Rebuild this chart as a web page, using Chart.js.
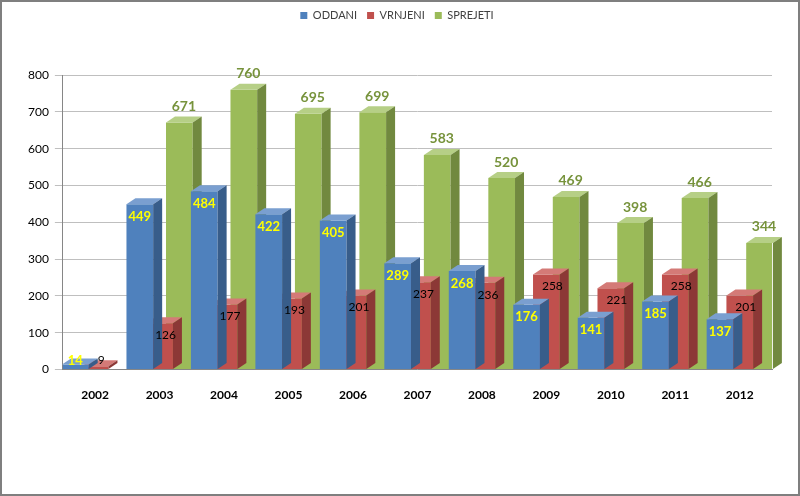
<!DOCTYPE html>
<html>
<head>
<meta charset="utf-8">
<script src="https://cdn.jsdelivr.net/npm/chart.js@4.4.0/dist/chart.umd.min.js"></script>
<style>
  html, body { margin: 0; padding: 0; background: #ffffff; }
  #wrap { width: 800px; height: 496px; }
</style>
</head>
<body>
<div id="wrap"><canvas id="yearsChart" width="800" height="496"></canvas></div>
<script>
const years = ['2002', '2003', '2004', '2005', '2006', '2007', '2008', '2009', '2010', '2011', '2012'];
const oddani = [14, 449, 484, 422, 405, 289, 268, 176, 141, 185, 137];
const vrnjeni = [9, 126, 177, 193, 201, 237, 236, 258, 221, 258, 201];
const sprejeti = [null, 671, 760, 695, 699, 583, 520, 469, 398, 466, 344];
const yTicks = [0, 100, 200, 300, 400, 500, 600, 700, 800];

const FONT = 'Lato, "Open Sans", sans-serif';
const DX = 9, DY = 6;

// white page + grey frame
const framePlugin = {
    id: 'frame',
    beforeInit(chart) {
        // extra room under the legend
        const fit = chart.legend.fit;
        chart.legend.fit = function () {
            fit.bind(this)();
            this.height += 44;
        };
    },
    beforeDraw(chart) {
        const ctx = chart.ctx;
        ctx.save();
        ctx.fillStyle = '#ffffff';
        ctx.fillRect(0, 0, chart.width, chart.height);
        ctx.restore();
    },
    afterDraw(chart) {
        const ctx = chart.ctx;
        ctx.save();
        ctx.strokeStyle = '#7f7f7f';
        ctx.lineWidth = 2;
        ctx.strokeRect(1, 1, chart.width - 2, chart.height - 2);
        ctx.restore();
    }
};

// top and side faces so the bars look like blocks
const blockPlugin = {
    id: 'blocks',
    afterDatasetDraw(chart, args) {
        const ctx = chart.ctx;
        const ds = chart.data.datasets[args.index];
        ctx.save();
        args.meta.data.forEach((bar, i) => {
            if (ds.data[i] == null) return;
            const p = bar.getProps(['x', 'y', 'base', 'width'], true);
            const l = p.x - p.width / 2, r = p.x + p.width / 2;
            ctx.fillStyle = ds.topColor;
            ctx.beginPath();
            ctx.moveTo(l, p.y);
            ctx.lineTo(l + DX, p.y - DY);
            ctx.lineTo(r + DX, p.y - DY);
            ctx.lineTo(r, p.y);
            ctx.closePath();
            ctx.fill();
            ctx.fillStyle = ds.sideColor;
            ctx.beginPath();
            ctx.moveTo(r, p.y);
            ctx.lineTo(r + DX, p.y - DY);
            ctx.lineTo(r + DX, p.base - DY);
            ctx.lineTo(r, p.base);
            ctx.closePath();
            ctx.fill();
        });
        ctx.restore();
    }
};

// value labels
const valuePlugin = {
    id: 'values',
    afterDatasetsDraw(chart) {
        const ctx = chart.ctx;
        ctx.save();
        ctx.textAlign = 'center';
        chart.data.datasets.forEach((ds, di) => {
            const meta = chart.getDatasetMeta(di);
            meta.data.forEach((bar, i) => {
                const v = ds.data[i];
                if (v == null) return;
                const p = bar.getProps(['x', 'y', 'base'], true);
                ctx.font = ds.labelFont;
                ctx.fillStyle = ds.labelColor;
                if (ds.labelPos === 'above') {
                    ctx.textBaseline = 'bottom';
                    ctx.fillText(v, p.x + DX / 2, p.y - DY - 3);
                } else {
                    ctx.textBaseline = 'top';
                    let ty = p.y + 6;
                    if (p.base - p.y < 18) ty = p.base - 15;
                    ctx.fillText(v, p.x + ds.labelShift, ty);
                }
            });
        });
        ctx.restore();
    }
};

new Chart(document.getElementById('yearsChart'), {
    type: 'bar',
    data: {
        labels: years,
        datasets: [
            {
                label: 'ODDANI',
                data: oddani,
                backgroundColor: '#4f81bd',
                topColor: '#7a9fd0',
                sideColor: '#385d8a',
                labelColor: '#ffff00',
                labelFont: 'bold 13px ' + FONT,
                labelPos: 'inside',
                labelShift: 0
            },
            {
                label: 'VRNJENI',
                data: vrnjeni,
                backgroundColor: '#c0504d',
                topColor: '#d47a77',
                sideColor: '#8c3836',
                labelColor: '#000000',
                labelFont: '12px ' + FONT,
                labelPos: 'inside',
                labelShift: 6
            },
            {
                label: 'SPREJETI',
                data: sprejeti,
                backgroundColor: '#9bbb59',
                topColor: '#b6cf86',
                sideColor: '#71893f',
                labelColor: '#77933c',
                labelFont: 'bold 14px ' + FONT,
                labelPos: 'above',
                labelShift: 0
            }
        ]
    },
    options: {
        responsive: false,
        animation: false,
        layout: { padding: { left: 22, right: 28, top: 0, bottom: 84 } },
        datasets: {
            bar: { categoryPercentage: 0.92, barPercentage: 1.35 }
        },
        plugins: {
            legend: {
                position: 'top',
                labels: {
                    boxWidth: 7,
                    boxHeight: 7,
                    padding: 10,
                    color: '#404040',
                    font: { family: FONT, size: 11 }
                }
            },
            tooltip: { enabled: false }
        },
        scales: {
            x: {
                grid: { display: false },
                border: { color: '#868686' },
                ticks: {
                    color: '#000000',
                    padding: 10,
                    font: { family: FONT, size: 12, weight: 'bold' }
                }
            },
            y: {
                min: 0,
                max: 800,
                afterBuildTicks: axis => { axis.ticks = yTicks.map(v => ({ value: v })); },
                grid: { color: '#bfbfbf', tickLength: 8 },
                border: { color: '#868686' },
                ticks: {
                    color: '#000000',
                    padding: 6,
                    font: { family: FONT, size: 12 }
                }
            }
        }
    },
    plugins: [framePlugin, blockPlugin, valuePlugin]
});
</script>
</body>
</html>
